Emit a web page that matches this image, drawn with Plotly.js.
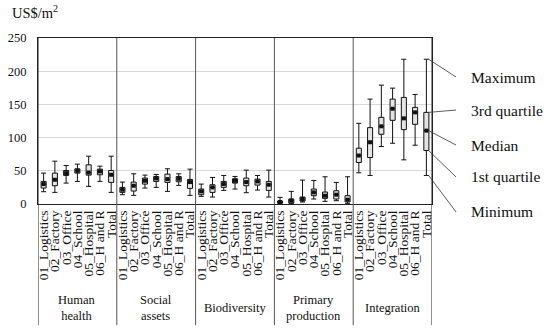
<!DOCTYPE html>
<html>
<head>
<meta charset="utf-8">
<script src="https://cdn.plot.ly/plotly-3.0.1.min.js"></script>
<style>html,body{margin:0;padding:0;background:#fff;}#chart{width:550px;height:330px;}</style>
</head>
<body>
<div id="chart"></div>
<script>
// Categories and groups
const categories = ["01_Logistics", "02_Factory", "03_Office", "04_School", "05_Hospital", "06_H and R", "Total"];
const groups = ["Human<br>health", "Social<br>assets", "Biodiversity", "Primary<br>production", "Integration"];

// Statistics (US$/m2), one inner list per group, in category order
const maximum = [
  [46.5, 64.5, 58, 60, 72, 57, 72],
  [33, 45.5, 43.5, 44.5, 53, 45.5, 52.5],
  [30, 40, 43, 41.5, 51, 43, 51],
  [10, 19, 36, 35.5, 41, 32.5, 41],
  [121.5, 158, 179, 174.5, 218, 165, 218]
];
const q3 = [
  [34, 46.5, 50.5, 53, 59, 52.5, 50.5],
  [25, 33, 39, 41.5, 45, 41.5, 37],
  [22.5, 29, 34, 38, 39, 37.5, 34],
  [4.5, 7.5, 10.5, 22.5, 18, 20, 12.5],
  [84, 115, 130.5, 158, 160.5, 145.5, 138]
];
const median = [
  [30, 36.5, 46.5, 50, 47.5, 49, 44],
  [21.5, 27.5, 35, 38.5, 37.5, 38, 33],
  [19, 25, 30, 35, 33, 34, 29],
  [3, 5, 7.5, 17.5, 12.5, 14, 6.5],
  [73, 93, 117, 143.5, 129, 138, 110.5]
];
const q1 = [
  [24, 27.5, 43, 46.5, 43.5, 44, 32.5],
  [17.5, 19.5, 30, 34, 32.5, 33.5, 23.5],
  [14, 17.5, 25, 31.5, 27.5, 28.5, 20.5],
  [1.5, 1.5, 4.5, 12.5, 8.5, 7.5, 3],
  [62.5, 70, 105, 126, 112, 120, 80.5]
];
const minimum = [
  [18.5, 17.5, 31.5, 34, 26.5, 34, 17.5],
  [14, 13, 24, 25, 19, 28, 13],
  [11.5, 10.5, 20.5, 22.5, 17, 21, 10.5],
  [0.5, 0.5, 3, 7.5, 4, 5, 0.5],
  [47, 43, 86.5, 91.5, 66.5, 88.5, 43]
];
const yTicks = [0, 50, 100, 150, 200, 250];
const legendLabels = ["Maximum", "3rd quartile", "Median", "1st quartile", "Minimum"];

const FONT = "Liberation Serif, Times New Roman, serif";
const Y_MAX = 250;
const nC = categories.length;
const traces = [];
const tickvals = [], ticktext = [];
groups.forEach((g, gi) => {
  const xs = categories.map((c, ci) => gi * nC + ci);
  xs.forEach((x, ci) => { tickvals.push(x); ticktext.push(categories[ci]); });
  traces.push({
    type: "box",
    x: xs,
    q1: q1[gi], median: median[gi], q3: q3[gi],
    lowerfence: minimum[gi], upperfence: maximum[gi],
    width: 0.45,
    whiskerwidth: 1,
    boxpoints: false,
    fillcolor: "#e4e4e4",
    line: {color: "#111", width: 1},
    hoverinfo: "skip"
  });
  traces.push({
    type: "scatter", mode: "markers",
    x: xs, y: median[gi],
    marker: {symbol: "square", size: 4, color: "#111"},
    hoverinfo: "skip"
  });
});

const nX = groups.length * nC;
const shapes = [];
for (let k = 0; k <= groups.length; k++) {
  shapes.push({type: "line", xref: "x", yref: "paper", x0: k * nC - 0.5, x1: k * nC - 0.5,
    y0: -0.73, y1: 1, line: {color: k === 0 || k === groups.length ? "#222" : "#555", width: 1}});
}

const annotations = [];
groups.forEach((g, gi) => {
  annotations.push({xref: "x", yref: "paper", x: gi * nC + (nC - 1) / 2, y: -0.627, yanchor: "middle",
    text: g, showarrow: false, font: {family: FONT, size: 12.5, color: "#111"}, align: "center"});
});
annotations.push({xref: "paper", yref: "paper", x: -0.071, y: 1.157, xanchor: "left", yanchor: "middle",
  text: "US$/m<sup>2</sup>", showarrow: false, font: {family: FONT, size: 14.5, color: "#111"}});

// pointer lines from the last (Total) box to the legend labels
const lastG = groups.length - 1, lastC = nC - 1;
const totalXPaper = (lastG * nC + lastC + 0.7) / nX;
const pointerVals = [maximum[lastG][lastC], q3[lastG][lastC], median[lastG][lastC], q1[lastG][lastC], minimum[lastG][lastC]];
const labelY = [0.765, 0.566, 0.355, 0.163, -0.048];
legendLabels.forEach((lab, i) => {
  shapes.push({type: "line", xref: "paper", yref: "paper",
    x0: totalXPaper, y0: pointerVals[i] / Y_MAX, x1: 1.061, y1: labelY[i],
    line: {color: "#333", width: 0.8}});
  annotations.push({xref: "paper", yref: "paper", x: 1.094, y: labelY[i], xanchor: "left", yanchor: "middle",
    text: lab, showarrow: false, font: {family: FONT, size: 15.5, color: "#111"}});
});

const layout = {
  width: 550, height: 330,
  margin: {l: 38, r: 118, t: 38, b: 126},
  paper_bgcolor: "#fff", plot_bgcolor: "#fff",
  showlegend: false,
  font: {family: FONT, color: "#111"},
  xaxis: {
    range: [-0.5, nX - 0.5], tickmode: "array", tickvals: tickvals, ticktext: ticktext,
    tickangle: -90, tickfont: {family: FONT, size: 13.5, color: "#111"},
    showgrid: false, zeroline: false, showline: true, mirror: true, linecolor: "#222", linewidth: 1, ticks: ""
  },
  yaxis: {
    range: [0, Y_MAX], tickmode: "array", tickvals: yTicks,
    tickfont: {family: FONT, size: 12.5, color: "#111"},
    showgrid: true, gridcolor: "#d9d9d9", gridwidth: 1, zeroline: false,
    showline: true, mirror: true, linecolor: "#222", linewidth: 1, ticks: "", ticklabelstandoff: 8
  },
  shapes: shapes,
  annotations: annotations
};
Plotly.newPlot("chart", traces, layout, {staticPlot: true, displayModeBar: false});
</script>
</body>
</html>
